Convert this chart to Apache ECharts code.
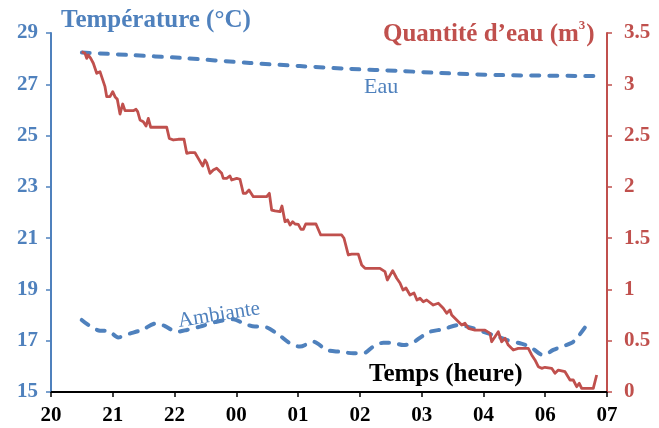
<!DOCTYPE html>
<html>
<head>
<meta charset="utf-8">
<script src="https://cdn.jsdelivr.net/npm/echarts@6/dist/echarts.min.js"></script>
<style>html,body{margin:0;padding:0;background:#fff}#c{width:659px;height:428px}</style>
</head>
<body>
<div id="c"></div>
<script>
// Tick labels of the time axis (equally spaced positions 0..9)
const xLabels = ['20','21','22','00','01','02','03','04','06','07'];

// Water temperature (°C), "Eau"
const eauX = [0.50, 1.28, 2.09, 3.22, 4.03, 4.84, 5.65, 6.30, 7.27, 8.84];
const eauT = [28.24, 28.14, 28.03, 27.83, 27.71, 27.60, 27.52, 27.44, 27.36, 27.32];

// Ambient temperature (°C), "Ambiante"
const ambX = [0.497,0.631,0.793,0.927,1.089,1.251,1.468,1.711,1.845,2.035,2.196,2.412,2.682,2.951,3.113,3.302,3.436,3.653,3.869,4.030,4.246,4.463,4.678,4.893,5.055,5.217,5.379,5.515,5.703,5.838,6.000,6.135,6.350,6.593,6.782,6.997,7.159,7.376,7.591,7.753,7.969,8.131,8.292,8.454,8.644];
const ambT = [17.81,17.57,17.39,17.38,17.13,17.26,17.42,17.68,17.57,17.35,17.42,17.55,17.74,17.84,17.68,17.55,17.55,17.29,16.90,16.77,16.96,16.64,16.57,16.51,16.51,16.77,16.92,16.92,16.83,16.90,17.16,17.35,17.45,17.61,17.52,17.35,17.22,17.03,16.90,16.77,16.44,16.64,16.79,16.96,17.52];

// Water quantity (m³)
const qX = [0.497,0.550,0.578,0.604,0.643,0.685,0.740,0.793,0.821,0.874,0.902,0.955,0.999,1.036,1.073,1.117,1.161,1.198,1.332,1.376,1.403,1.441,1.494,1.538,1.575,1.614,1.873,1.915,1.980,2.061,2.153,2.197,2.250,2.331,2.384,2.456,2.493,2.520,2.574,2.627,2.682,2.763,2.789,2.844,2.897,2.925,3.006,3.059,3.113,3.156,3.205,3.275,3.491,3.534,3.572,3.626,3.707,3.739,3.788,3.831,3.869,3.912,3.950,4.003,4.047,4.084,4.123,4.289,4.366,4.705,4.743,4.812,4.867,4.974,5.029,5.083,5.325,5.353,5.406,5.444,5.531,5.596,5.649,5.698,5.746,5.811,5.876,5.924,5.973,6.026,6.081,6.188,6.269,6.350,6.405,6.458,6.486,6.567,6.648,6.701,6.755,6.863,7.025,7.106,7.133,7.187,7.240,7.295,7.349,7.402,7.483,7.564,7.726,7.781,7.834,7.888,7.943,7.996,8.105,8.158,8.212,8.320,8.401,8.454,8.509,8.551,8.590,8.644,8.778,8.833];
const qV = [3.318,3.302,3.253,3.286,3.253,3.205,3.107,3.123,3.107,2.977,2.879,2.879,2.928,2.879,2.854,2.710,2.808,2.743,2.743,2.756,2.733,2.652,2.635,2.593,2.668,2.581,2.581,2.473,2.457,2.464,2.464,2.327,2.333,2.333,2.278,2.203,2.262,2.236,2.132,2.164,2.181,2.132,2.083,2.083,2.106,2.067,2.083,2.074,1.937,1.937,1.969,1.904,1.904,1.937,1.774,1.765,1.758,1.813,1.660,1.677,1.628,1.660,1.638,1.635,1.586,1.586,1.638,1.638,1.531,1.531,1.499,1.336,1.345,1.345,1.238,1.206,1.206,1.189,1.173,1.092,1.183,1.109,1.063,0.994,1.014,0.946,0.965,0.897,0.914,0.880,0.897,0.848,0.865,0.816,0.767,0.799,0.751,0.702,0.653,0.670,0.621,0.604,0.604,0.572,0.490,0.539,0.588,0.490,0.524,0.458,0.409,0.426,0.426,0.361,0.312,0.247,0.231,0.241,0.231,0.182,0.214,0.198,0.117,0.117,0.052,0.085,0.036,0.036,0.036,0.166];

const BLUE = '#4F81BD', RED = '#C0504D';
const SERIF = '"Liberation Serif","Times New Roman",serif';
const pairs = (xs, ys) => xs.map((x, i) => [x, ys[i]]);

const chart = echarts.init(document.getElementById('c'));
chart.setOption({
  animation: false,
  grid: { left: 51, right: 52, top: 33, bottom: 36 },
  xAxis: {
    type: 'value', min: 0, max: 9, interval: 1,
    axisLine: { lineStyle: { color: '#000', width: 2 } },
    axisTick: { show: true, length: 5, lineStyle: { color: '#000', width: 1.5 } },
    axisLabel: { color: '#000', fontFamily: SERIF, fontWeight: 'bold', fontSize: 21, margin: 13,
      formatter: v => xLabels[Math.round(v)] },
    splitLine: { show: false }
  },
  yAxis: [{
    type: 'value', min: 15, max: 29, interval: 2, position: 'left',
    axisLine: { show: true, lineStyle: { color: BLUE, width: 2 } },
    axisTick: { show: true, length: 5, lineStyle: { color: BLUE, width: 1.5 } },
    axisLabel: { color: BLUE, fontFamily: SERIF, fontWeight: 'bold', fontSize: 21, margin: 13 },
    splitLine: { show: false }
  }, {
    type: 'value', min: 0, max: 3.5, interval: 0.5, position: 'right',
    axisLine: { show: true, lineStyle: { color: RED, width: 2 } },
    axisTick: { show: true, length: 5, lineStyle: { color: RED, width: 1.5 } },
    axisLabel: { color: RED, fontFamily: SERIF, fontWeight: 'bold', fontSize: 21, margin: 17 },
    splitLine: { show: false }
  }],
  series: [{
    type: 'line', yAxisIndex: 0, data: pairs(eauX, eauT), showSymbol: false, smooth: 0.3,
    lineStyle: { color: BLUE, width: 4, type: [8, 10], cap: 'round' }
  }, {
    type: 'line', yAxisIndex: 0, data: pairs(ambX, ambT), showSymbol: false, smooth: 0.3,
    lineStyle: { color: BLUE, width: 4, type: [8, 10], cap: 'round' }
  }, {
    type: 'line', yAxisIndex: 1, data: pairs(qX, qV), showSymbol: false,
    lineStyle: { color: RED, width: 2.8, join: 'round' }
  }],
  graphic: [
    { type: 'text', left: 61, top: 8, style: { text: 'Température (°C)', font: 'bold 25px ' + SERIF, fill: BLUE } },
    { type: 'text', left: 383, top: 17, style: {
        text: '{a|Quantité d’eau (m}{s|3}{a|)}', fill: RED,
        rich: {
          a: { font: 'bold 25px ' + SERIF, fill: RED, lineHeight: 30, verticalAlign: 'bottom' },
          s: { font: 'bold 13px ' + SERIF, fill: RED, lineHeight: 30, verticalAlign: 'top', padding: [2, 1, 0, 0] }
        } } },
    { type: 'text', left: 369, top: 362, style: { text: 'Temps (heure)', font: 'bold 25px ' + SERIF, fill: '#000' } },
    { type: 'text', left: 364, top: 76, style: { text: 'Eau', font: '22px ' + SERIF, fill: BLUE } },
    { type: 'text', x: 219, y: 315, rotation: 9 * Math.PI / 180,
      style: { text: 'Ambiante', font: '21px ' + SERIF, fill: BLUE, textAlign: 'center', textVerticalAlign: 'middle' } }
  ]
});
</script>
</body>
</html>
